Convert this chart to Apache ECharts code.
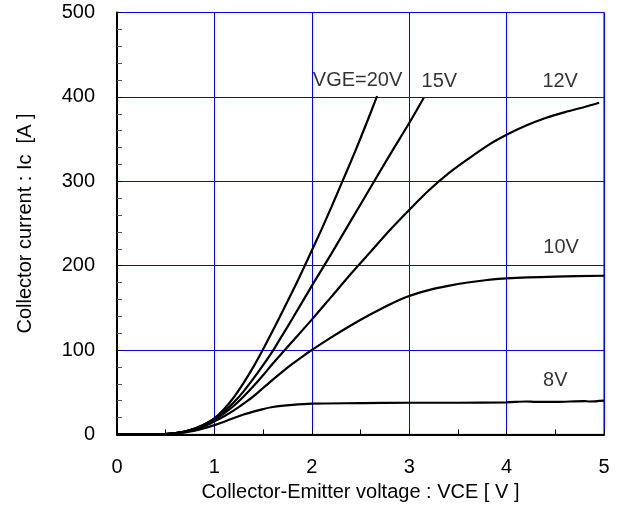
<!DOCTYPE html>
<html>
<head>
<meta charset="utf-8">
<script src="https://cdn.jsdelivr.net/npm/echarts@6/dist/echarts.min.js"></script>
<style>html,body{margin:0;padding:0;background:#fff}#c{width:623px;height:508px}</style>
</head>
<body>
<div id="c"></div>
<script>
var xTicks = [0, 1, 2, 3, 4, 5];
var yTicks = [0, 100, 200, 300, 400, 500];

var vge20 = [[0,0],[0.3,0],[0.5,0.5],[0.6,1.5],[0.7,3.5],[0.8,7],[0.9,12],[1.0,19],[1.1,30],[1.2,44],[1.3,61],[1.4,80],[1.5,101],[1.6,123],[1.7,146],[1.8,169],[1.9,193],[2.0,218],[2.1,243],[2.2,269],[2.3,296],[2.4,323],[2.5,351],[2.6,380],[2.67,401]];
var vge15 = [[0,0],[0.3,0],[0.5,0.5],[0.6,1.5],[0.7,3.5],[0.8,7],[0.9,12],[1.0,18.5],[1.1,27],[1.2,38],[1.3,51],[1.4,66],[1.5,82],[1.6,99],[1.7,118],[1.8,137],[2.0,176],[2.2,214],[2.4,253],[2.6,292],[2.8,331],[3.0,369],[3.15,399]];
var vge12 = [[0,0],[0.3,0],[0.5,0.5],[0.6,1.5],[0.7,3.5],[0.8,6.5],[0.9,11],[1.0,17.5],[1.1,25],[1.2,34],[1.3,45],[1.4,57],[1.5,70],[1.6,84],[1.7,97],[1.8,110],[2.0,136],[2.2,163],[2.4,190],[2.6,216],[2.8,242],[3.0,266],[3.2,289],[3.4,309],[3.6,326],[3.8,342],[4.0,355],[4.2,366],[4.4,375],[4.6,382],[4.8,388],[4.95,393]];
var vge10 = [[0,0],[0.3,0],[0.5,0.5],[0.6,1.5],[0.7,3],[0.8,6],[0.9,10],[1.0,15.5],[1.1,21.5],[1.2,28.5],[1.3,36.5],[1.4,45],[1.5,55],[1.6,65],[1.7,74.5],[1.8,83.5],[1.9,92],[2.0,100],[2.2,115],[2.4,129],[2.6,142],[2.8,154],[3.0,164],[3.2,171],[3.4,176],[3.6,180],[3.8,183],[4.0,185],[4.5,187],[5.0,188]];
var vge8 = [[0,0],[0.3,0],[0.5,0.5],[0.6,1.2],[0.7,2.5],[0.8,4.5],[0.9,7.5],[1.0,11],[1.1,15],[1.2,19.5],[1.3,23.5],[1.4,27],[1.5,30],[1.6,32.5],[1.8,35],[2.0,36.5],[2.5,37],[3.0,37.5],[3.5,37.5],[4.0,38],[4.2,39],[4.3,38.5],[4.5,38.5],[4.8,39.5],[4.85,39],[5.0,40]];

var curveLabels = [
  {text: 'VGE=20V', x: 2.47, y: 420},
  {text: '15V', x: 3.31, y: 418},
  {text: '12V', x: 4.55, y: 418},
  {text: '10V', x: 4.56, y: 222},
  {text: '8V', x: 4.5, y: 64}
];

var FONT = 'Liberation Sans, Arial, sans-serif';
function lineSeries(d) {
  return {type: 'line', data: d, showSymbol: false, smooth: 0.3,
    lineStyle: {color: '#000', width: 2.2}, silent: true, z: 3};
}
var chart = echarts.init(document.getElementById('c'));
chart.setOption({
  animation: false,
  grid: {left: 117, right: 19, top: 12.5, bottom: 73.6, show: true, borderColor: '#000', borderWidth: 1},
  xAxis: {
    type: 'value', min: xTicks[0], max: xTicks[xTicks.length - 1], interval: 1,
    name: 'Collector-Emitter voltage : VCE [ V ]', nameLocation: 'middle', nameGap: 47,
    nameTextStyle: {fontFamily: FONT, fontSize: 20, color: '#000'},
    axisLine: {show: true, onZero: false, lineStyle: {color: '#000', width: 2}},
    axisTick: {show: true, inside: true, length: 5, lineStyle: {color: '#000'}},
    minorTick: {show: true, splitNumber: 2, length: 5, lineStyle: {color: '#000'}},
    axisLabel: {fontFamily: FONT, fontSize: 20, color: '#000', margin: 23},
    splitLine: {show: true, lineStyle: {color: '#0000ff', width: 1}}
  },
  yAxis: {
    type: 'value', min: yTicks[0], max: yTicks[yTicks.length - 1], interval: 100,
    name: 'Collector current : Ic  [A ]', nameLocation: 'middle', nameGap: 82,
    nameTextStyle: {fontFamily: FONT, fontSize: 20, color: '#000'},
    axisLine: {show: true, onZero: false, lineStyle: {color: '#000', width: 2}},
    axisTick: {show: true, inside: true, length: 5, lineStyle: {color: '#000'}},
    minorTick: {show: true, splitNumber: 5, length: 5, lineStyle: {color: '#555'}},
    axisLabel: {fontFamily: FONT, fontSize: 20, color: '#000', margin: 22},
    splitLine: {show: true, lineStyle: {color: '#0000ff', width: 1}}
  },
  series: [
    lineSeries(vge20), lineSeries(vge15), lineSeries(vge12), lineSeries(vge10), lineSeries(vge8),
    {type: 'scatter', symbolSize: 0, silent: true, z: 5,
     data: curveLabels.map(function (l) { return {value: [l.x, l.y], name: l.text}; }),
     label: {show: true, position: 'inside', formatter: '{b}', fontFamily: FONT, fontSize: 20, color: '#000'}}
  ]
});
</script>
</body>
</html>
